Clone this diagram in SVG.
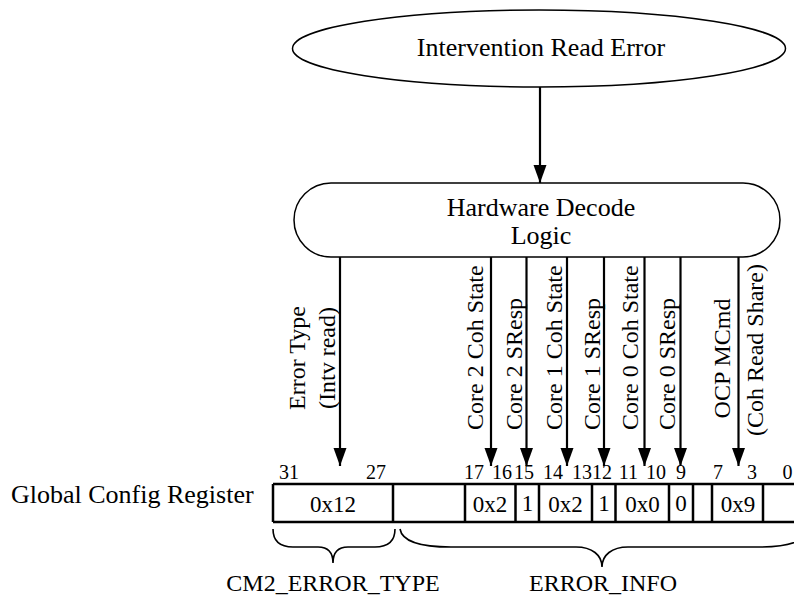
<svg xmlns="http://www.w3.org/2000/svg" width="794" height="598" viewBox="0 0 794 598">
<style>
text{font-family:"Liberation Serif","Times New Roman",serif;fill:#000}
.big{font-size:26px}
.lbl{font-size:24px}
.val{font-size:23px;text-anchor:middle}
.bit{font-size:20px;text-anchor:middle}
.shape{fill:#fff;stroke:#000;stroke-width:1.5}
.arr{stroke:#000;stroke-width:2.2;fill:none;marker-end:url(#ah)}
.reg{fill:none;stroke:#000;stroke-width:2.5}
.brace{fill:none;stroke:#000;stroke-width:1.6}
</style>
<defs>
<marker id="ah" markerUnits="userSpaceOnUse" markerWidth="20" markerHeight="14" refX="18" refY="6.5" orient="auto">
<path d="M0,0 L18,6.5 L0,13 Z" fill="#000"/>
</marker>
</defs>

<g id="intervention-read-error">
<ellipse class="shape" cx="539" cy="48.5" rx="246.5" ry="38.5"/>
<text class="big" x="541" y="56" text-anchor="middle">Intervention Read Error</text>
</g>

<g id="hardware-decode-logic">
<rect class="shape" x="294" y="183" width="486" height="74" rx="37" ry="37"/>
<text class="big" x="541" y="216" text-anchor="middle">Hardware Decode</text>
<text class="big" x="541" y="244" text-anchor="middle">Logic</text>
</g>

<g id="connectors">
<line class="arr" x1="540" y1="87" x2="540" y2="183"/>
<line class="arr" x1="340" y1="257" x2="340" y2="466"/>
<line class="arr" x1="491" y1="257" x2="491" y2="466"/>
<line class="arr" x1="526.5" y1="257" x2="526.5" y2="466"/>
<line class="arr" x1="567" y1="257" x2="567" y2="466"/>
<line class="arr" x1="604" y1="257" x2="604" y2="466"/>
<line class="arr" x1="644.5" y1="257" x2="644.5" y2="466"/>
<line class="arr" x1="680.5" y1="257" x2="680.5" y2="466"/>
<line class="arr" x1="738.5" y1="257" x2="738.5" y2="466"/>
</g>

<g id="signal-labels" class="lbl">
<text transform="translate(305,358) rotate(-90)" text-anchor="middle">Error Type</text>
<text transform="translate(335,358) rotate(-90)" text-anchor="middle">(Intv read)</text>
<text transform="translate(483,430) rotate(-90)">Core 2 Coh State</text>
<text transform="translate(521.5,430) rotate(-90)">Core 2 SResp</text>
<text transform="translate(561.5,430) rotate(-90)">Core 1 Coh State</text>
<text transform="translate(600,430) rotate(-90)">Core 1 SResp</text>
<text transform="translate(638,430) rotate(-90)">Core 0 Coh State</text>
<text transform="translate(675,430) rotate(-90)">Core 0 SResp</text>
<text transform="translate(730,358.5) rotate(-90)" text-anchor="middle">OCP MCmd</text>
<text transform="translate(763,350) rotate(-90)" text-anchor="middle">(Coh Read Share)</text>
</g>

<g id="global-config-register">
<text class="big" x="11" y="503">Global Config Register</text>
<path class="reg" d="M273,484 H800 M273,522 H800 M273,484 V522 M393,484 V522 M465,484 V522 M515.5,484 V522 M539,484 V522 M592,484 V522 M615.5,484 V522 M669,484 V522 M693,484 V522 M712,484 V522 M763,484 V522"/>
<text class="val" x="333" y="512">0x12</text>
<text class="val" x="490" y="512">0x2</text>
<text class="val" x="527.5" y="511">1</text>
<text class="val" x="565.5" y="512">0x2</text>
<text class="val" x="604" y="511">1</text>
<text class="val" x="642.5" y="512">0x0</text>
<text class="val" x="681" y="511">0</text>
<text class="val" x="738" y="512">0x9</text>
<text class="bit" x="289" y="479">31</text>
<text class="bit" x="376" y="479">27</text>
<text class="bit" x="474" y="479">17</text>
<text class="bit" x="502" y="479">16</text>
<text class="bit" x="524" y="479">15</text>
<text class="bit" x="553" y="479">14</text>
<text class="bit" x="582" y="479">13</text>
<text class="bit" x="602" y="479">12</text>
<text class="bit" x="628.5" y="479">11</text>
<text class="bit" x="656" y="479">10</text>
<text class="bit" x="681" y="479">9</text>
<text class="bit" x="718" y="479">7</text>
<text class="bit" x="752" y="479">3</text>
<text class="bit" x="787.5" y="479">0</text>
</g>

<g id="cm2-error-type">
<path class="brace" d="M273,529 C273,541 280,547 293,547 L318,547 C328,547 333,553 333,563 C333,553 338,547 348,547 L375,547 C388,547 395,541 395,529"/>
<text class="lbl" x="333" y="591" text-anchor="middle">CM2_ERROR_TYPE</text>
</g>

<g id="error-info">
<path class="brace" d="M400,529 C402,541 420,547 451,547 L576,547 C592,547 602,555 602,567 C602,555 612,547 628,547 L760,547 C790,547 806,541 808,529"/>
<text class="lbl" x="603" y="591" text-anchor="middle">ERROR_INFO</text>
</g>
</svg>
